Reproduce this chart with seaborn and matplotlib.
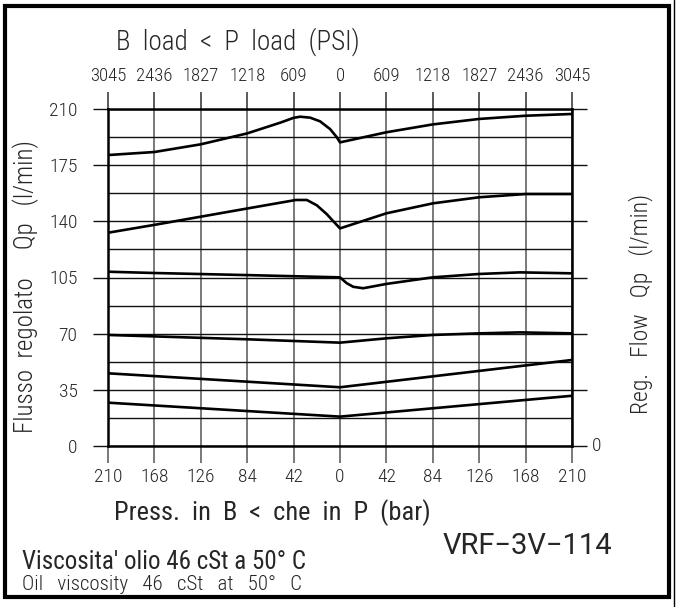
import numpy as np
import pandas as pd
import matplotlib
matplotlib.use("Agg")
import matplotlib.pyplot as plt
from matplotlib.patches import Rectangle
from matplotlib.lines import Line2D
from matplotlib.ticker import FixedLocator, MultipleLocator
import seaborn as sns

# Pressure difference B < P (bar); left half negative, labelled by magnitude
press_ticks = [-210, -168, -126, -84, -42, 0, 42, 84, 126, 168, 210]
bar_labels = ["210", "168", "126", "84", "42", "0", "42", "84", "126", "168", "210"]
psi_labels = ["3045", "2436", "1827", "1218", "609", "0", "609", "1218", "1827", "2436", "3045"]
flow_ticks = [0, 35, 70, 105, 140, 175, 210]

# Regulated flow curves Qp (l/min)
c1_x = [-210, -168, -126, -84, -54, -42, -36, -27, -18, -9, -3, 0, 42, 84, 126, 168, 210]
c1_y = [181.3, 183.2, 188.0, 194.8, 201.5, 204.5, 205.2, 204.6, 202.3, 197.5, 192.5, 189.2,
        195.5, 200.4, 203.8, 205.8, 206.9]
c2_x = [-210, -168, -84, -40, -30, -21, -12, -6, 0, 42, 84, 126, 168, 210]
c2_y = [132.9, 137.8, 148.0, 153.3, 153.3, 150.0, 144.5, 140.0, 135.6, 145.0, 151.2, 155.0, 157.0, 157.0]
c3_x = [-210, -168, -84, 0, 6, 12, 21, 42, 84, 126, 163, 210]
c3_y = [108.6, 107.8, 106.5, 105.1, 101.5, 99.2, 98.3, 101.0, 105.1, 107.2, 108.2, 107.6]
c4_x = [-210, -84, 0, 42, 84, 126, 163, 210]
c4_y = [69.2, 66.5, 64.4, 67.1, 69.2, 70.2, 70.8, 70.2]
c5_x = [-210, 0, 210]
c5_y = [45.3, 36.6, 53.6]
c6_x = [-210, 0, 210]
c6_y = [27.0, 18.3, 31.3]

curves = [(c1_x, c1_y), (c2_x, c2_y), (c3_x, c3_y), (c4_x, c4_y), (c5_x, c5_y), (c6_x, c6_y)]
df = pd.concat(
    [pd.DataFrame({"press": xs, "flow": ys, "curve": i}) for i, (xs, ys) in enumerate(curves)],
    ignore_index=True,
)

sns.set_style("white")
cond = ["Roboto Condensed", "DejaVu Sans"]
plt.rcParams["font.family"] = cond
plt.rcParams["font.weight"] = 300

W, H = 676, 607
fig = plt.figure(figsize=(W / 100, H / 100), dpi=100)
ax = fig.add_axes([108 / W, 1 - 446 / H, (572 - 108) / W, (446 - 109) / H])

sns.lineplot(data=df, x="press", y="flow", units="curve", estimator=None, sort=False,
             color="black", linewidth=1.9, ax=ax, legend=False)

ax.set_xlim(-210, 210)
ax.set_ylim(0, 210)
ax.set_xlabel("")
ax.set_ylabel("")

ax.xaxis.set_major_locator(FixedLocator(press_ticks))
ax.set_xticklabels(bar_labels)
ax.yaxis.set_major_locator(FixedLocator(flow_ticks))
ax.yaxis.set_minor_locator(MultipleLocator(17.5))
ax.set_yticklabels([str(v) for v in flow_ticks])

ax.grid(True, which="major", axis="x", color="#555555", linewidth=1.1)
ax.grid(True, which="both", axis="y", color="#111111", linewidth=1.0)

ax.tick_params(axis="x", which="major", direction="out", length=12, width=1.1,
               bottom=True, top=True, labelsize=14, pad=4, color="#555555")
ax.tick_params(axis="y", which="major", direction="out", length=11, width=1.0,
               left=True, right=True, labelsize=14, pad=11, color="#111111")
ax.tick_params(axis="y", which="minor", left=False, right=False)

for side in ["left", "right", "top", "bottom"]:
    ax.spines[side].set_visible(True)
    ax.spines[side].set_color("black")
    ax.spines[side].set_linewidth(1.8)

# PSI scale on top
top = ax.secondary_xaxis("top")
top.xaxis.set_major_locator(FixedLocator(press_ticks))
top.set_xticklabels(psi_labels)
top.tick_params(axis="x", length=12, width=1.1, labelsize=13.5, pad=5, color="#555555")
top.spines["top"].set_visible(False)

# Right-side zero label
ax.text(1.054, 0, "0", transform=ax.get_yaxis_transform(), ha="center", va="center",
        fontsize=14)

# Titles and notes
fig.text(116 / W, 1 - 42 / H, "B  load  <  P  load  (PSI)", fontsize=19.5, ha="left", va="center")
fig.text(114 / W, 1 - 513 / H, "Press.  in  B  <  che  in  P  (bar)", fontsize=19, ha="left",
         va="center", fontweight="normal")
fig.text(443 / W, 1 - 546 / H, "VRF\u22123V\u2212114", fontsize=21, ha="left", va="center",
         family=["Roboto", "DejaVu Sans"], fontweight="normal")
fig.text(22 / W, 1 - 562 / H, "Viscosita' olio 46 cSt a 50\u00b0 C", fontsize=18, ha="left",
         va="center", fontweight="normal")
fig.text(22 / W, 1 - 585 / H, "Oil   viscosity   46   cSt   at   50\u00b0   C", fontsize=15,
         ha="left", va="center")
fig.text(26 / W, 1 - 287 / H, "Flusso  regolato     Qp   (l/min)", fontsize=18, rotation=90,
         ha="center", va="center")
fig.text(641 / W, 1 - 304 / H, "Reg.   Flow   Qp   (l/min)", fontsize=17, rotation=90,
         ha="center", va="center")

# Drawing frame and neighbouring sheet edge
fig.patches.append(Rectangle((5 / W, 1 - 597 / H), (669 - 5) / W, (597 - 6) / H,
                             transform=fig.transFigure, fill=False, edgecolor="black",
                             linewidth=3.0))
fig.lines.append(Line2D([673.5 / W, 673.5 / W], [0, 1], transform=fig.transFigure,
                        color="black", linewidth=1.0))

fig.savefig("out.png", dpi=100, facecolor="white")
